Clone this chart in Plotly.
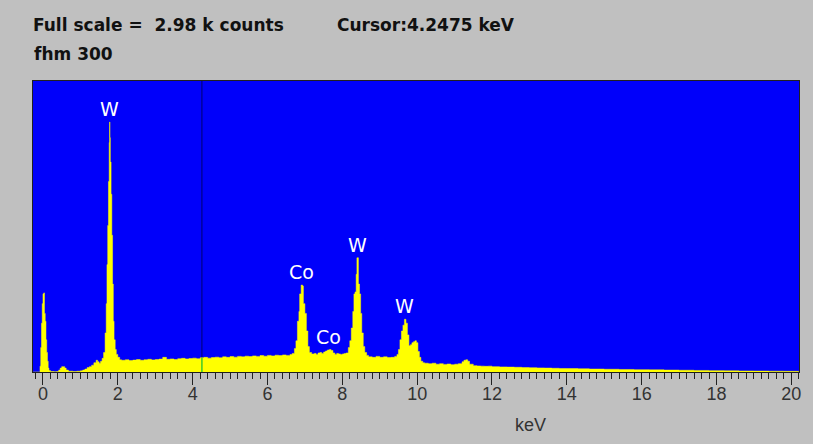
import numpy as np
import plotly.graph_objects as go

# ---------------- data ----------------
ENERGY_KEV = [
    -0.26, -0.16, -0.10, -0.08, -0.06, -0.04, -0.02, 0.00, 0.02, 0.04, 0.06, 0.08, 0.10, 0.12, 0.14, 0.16, 0.20, 0.30,
    0.36, 0.42, 0.46, 0.50, 0.54, 0.58, 0.62, 0.68, 0.80, 0.90, 1.00, 1.06, 1.12, 1.18, 1.24, 1.30, 1.36, 1.42, 1.46,
    1.50, 1.54, 1.58, 1.62, 1.66, 1.69, 1.71, 1.73, 1.75, 1.77, 1.78, 1.79, 1.80, 1.82, 1.84, 1.86, 1.88, 1.90, 1.93,
    1.96, 2.00, 2.05,
    2.1, 2.2, 2.3, 2.4, 2.5, 2.6, 2.7, 2.8, 2.9, 3.0, 3.1, 3.2, 3.3, 3.4, 3.5, 3.6, 3.7, 3.8, 3.9, 4.0, 4.1, 4.2,
    4.3, 4.4, 4.5, 4.6, 4.7, 4.8, 4.9, 5.0, 5.1, 5.2, 5.3, 5.4, 5.5, 5.6, 5.7, 5.8, 5.9, 6.0, 6.1, 6.2, 6.3, 6.4,
    6.5, 6.6, 6.66,
    6.72, 6.76, 6.80, 6.84, 6.86, 6.90, 6.94, 6.96, 7.00, 7.04, 7.08, 7.12, 7.18,
    7.25, 7.30, 7.35, 7.40, 7.45, 7.50, 7.55, 7.60, 7.65, 7.70, 7.75, 7.80, 7.85, 7.90, 7.95, 8.00, 8.05, 8.10,
    8.16, 8.20, 8.24, 8.28, 8.31, 8.34, 8.37, 8.39, 8.41, 8.43, 8.46, 8.49, 8.52, 8.56, 8.60, 8.65,
    8.7, 8.8, 8.9, 9.0, 9.1, 9.2, 9.3, 9.4,
    9.46, 9.50, 9.54, 9.58, 9.62, 9.66, 9.70, 9.74, 9.78, 9.82, 9.86, 9.90, 9.94, 9.98, 10.02, 10.06, 10.10, 10.15,
    10.2, 10.3, 10.4, 10.5, 10.6, 10.7, 10.8, 10.9, 11.0, 11.1, 11.2, 11.25, 11.30, 11.35, 11.4, 11.5, 11.6, 11.7,
    11.8, 11.9, 12.0, 12.2, 12.4, 12.6, 12.8, 13.0, 13.2, 13.4, 13.6, 13.8, 14.0, 14.3, 14.6, 15.0, 15.4, 15.8,
    16.2, 16.6, 17.0, 17.4, 17.8, 18.2, 18.6, 19.0, 19.4, 19.8, 20.2,
]
COUNTS = [
    0, 0, 0, 60, 250, 500, 700, 800, 810, 600, 520, 330, 200, 110, 40, 15, 5, 3,
    5, 20, 40, 55, 55, 40, 20, 8, 5, 8, 12, 20, 30, 45, 55, 70, 95, 120, 105,
    90, 110, 140, 200, 400, 700, 1100, 1500, 1950, 2350, 2560, 2400, 2150, 1820, 1400, 900, 520, 330, 230,
    180, 150, 125,
    120, 125, 118, 122, 128, 120, 125, 130, 124, 128, 132, 150, 130, 134, 128, 136, 140, 134, 138, 142, 136, 145,
    150, 142, 148, 152, 146, 155, 150, 158, 152, 160, 155, 162, 158, 165, 160, 168, 162, 170, 165, 172, 168, 175,
    170, 178, 190,
    240, 320, 520, 620, 800, 890, 880, 700, 600, 420, 260, 200, 185,
    190, 180, 195, 200, 190, 205, 215, 225, 230, 220, 195, 180, 190, 185, 180, 185, 190, 195,
    250, 320, 450, 620, 800, 820, 1000, 1170, 1170, 900, 800, 600, 400, 260, 200, 170,
    155, 150, 160, 150, 155, 148, 150, 160,
    180, 230, 330, 420, 480, 540, 500, 380, 270, 280, 300, 310, 320, 300, 210, 150, 110, 95,
    90, 85, 90, 80, 85, 78, 82, 75, 80, 85, 105, 120, 125, 110, 80, 65, 62, 60,
    58, 60, 55, 52, 50, 48, 45, 44, 42, 40, 38, 36, 35, 33, 30, 28, 26, 24,
    22, 20, 18, 16, 14, 12, 10, 9, 8, 7, 6,
]

PEAK_LABELS = ["W", "Co", "Co", "W", "W"]
PEAK_ENERGY = [1.78, 6.90, 7.62, 8.40, 9.66]
PEAK_COUNTS = [2560, 890, 230, 1170, 540]

FULL_SCALE = 2980          # counts ("Full scale = 2.98 k counts")
CURSOR_KEV = 4.2475
X_TICKS = list(range(0, 21, 2))

HEADER_1 = "Full scale =\u00a0\u00a02.98 k counts"
HEADER_2 = "Cursor:4.2475 keV"
HEADER_3 = "fhm 300"
X_LABEL = "keV"

# ---------------- figure ----------------
fig = go.Figure()
fig.add_trace(go.Scatter(
    x=ENERGY_KEV, y=COUNTS, mode="lines", line_shape="hv",
    line=dict(color="#FFFF00", width=0.5), fill="tozeroy", fillcolor="#FFFF00",
    hoverinfo="skip", showlegend=False,
))

# cursor line: navy above spectrum, green inside the spectrum
idx = int(np.searchsorted(ENERGY_KEV, CURSOR_KEV, side="right")) - 1
cursor_level = COUNTS[idx]
fig.add_shape(type="line", xref="x", yref="y", x0=CURSOR_KEV, x1=CURSOR_KEV, y0=0, y1=FULL_SCALE,
              line=dict(color="#00006E", width=1), layer="below")
fig.add_shape(type="line", xref="x", yref="y", x0=CURSOR_KEV, x1=CURSOR_KEV, y0=0, y1=cursor_level,
              line=dict(color="#3CCB2A", width=1.5), layer="above")

for lab, ex, cy in zip(PEAK_LABELS, PEAK_ENERGY, PEAK_COUNTS):
    fig.add_annotation(x=ex, y=cy, text=lab, showarrow=False, xanchor="center", yanchor="middle",
                       yshift=13, font=dict(family="DejaVu Sans", size=19, color="white"))

head_font = dict(family="DejaVu Sans", size=17, color="#111111")
fig.add_annotation(xref="paper", yref="paper", x=-0.002, y=1.192, text="<b>%s</b>" % HEADER_1,
                   showarrow=False, xanchor="left", yanchor="middle", font=head_font)
fig.add_annotation(xref="paper", yref="paper", x=0.394, y=1.192, text="<b>%s</b>" % HEADER_2,
                   showarrow=False, xanchor="left", yanchor="middle", font=head_font)
fig.add_annotation(xref="paper", yref="paper", x=-0.001, y=1.094, text="<b>%s</b>" % HEADER_3,
                   showarrow=False, xanchor="left", yanchor="middle", font=head_font)
fig.add_annotation(xref="paper", yref="paper", x=0.6497, y=-0.182, text=X_LABEL,
                   showarrow=False, xanchor="center", yanchor="middle",
                   font=dict(family="Liberation Sans Narrow, Liberation Sans", size=18, color="#333333"))

fig.update_xaxes(
    range=[-0.2666, 20.205], tickmode="array", tickvals=X_TICKS, ticktext=[str(t) for t in X_TICKS],
    ticks="outside", ticklen=12, tickwidth=1, tickcolor="#222222", ticklabelstandoff=-7,
    minor=dict(dtick=0.2, tick0=0, ticks="outside", ticklen=6, tickwidth=1, tickcolor="#222222", showgrid=False),
    showgrid=False, zeroline=False, showline=True, linecolor="#202020", linewidth=1, mirror=True,
    tickfont=dict(family="Liberation Sans Narrow, Liberation Sans", size=18, color="#333333"),
)
fig.update_yaxes(
    range=[0, FULL_SCALE], showticklabels=False, ticks="", showgrid=False, zeroline=False,
    showline=True, linecolor="#202020", linewidth=1, mirror=True,
)
fig.update_layout(
    width=813, height=444, margin=dict(l=33, r=12, t=81, b=72),
    paper_bgcolor="#C0C0C0", plot_bgcolor="#0000FA", showlegend=False,
)
fig.write_html("out.html")
